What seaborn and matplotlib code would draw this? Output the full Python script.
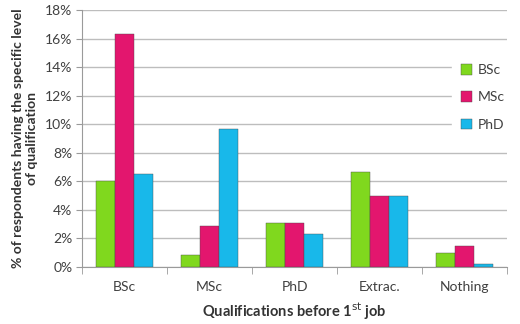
import pandas as pd
import matplotlib.pyplot as plt
import seaborn as sns
from matplotlib.ticker import PercentFormatter, FixedLocator

# 各資格水準在第一份工作前的比例
categories = ["BSc", "MSc", "PhD", "Extrac.", "Nothing"]
series = ["BSc", "MSc", "PhD"]
bsc_vals = [6.0, 0.85, 3.1, 6.65, 1.0]
msc_vals = [16.3, 2.9, 3.1, 5.0, 1.45]
phd_vals = [6.5, 9.7, 2.3, 5.0, 0.2]

df = pd.DataFrame({
    "qual": categories * 3,
    "level": ["BSc"] * 5 + ["MSc"] * 5 + ["PhD"] * 5,
    "pct": bsc_vals + msc_vals + phd_vals,
})

sns.set_style("white")
plt.rcParams['font.family'] = ['Lato', 'DejaVu Sans']

fig = plt.figure(figsize=(5.2, 3.24), dpi=100)
ax = fig.add_axes([0.158, 0.176, 0.817, 0.793])

palette = {"BSc": "#80D81E", "MSc": "#E3166E", "PhD": "#18B8EA"}
sns.barplot(data=df, x="qual", y="pct", hue="level", palette=palette,
            width=0.67, gap=0, edgecolor="#4a4a4a", linewidth=0.3,
            saturation=1, ax=ax, zorder=3)

ax.set_ylim(0, 18)
ax.set_xlim(-0.5, 4.5)
ax.yaxis.set_major_locator(FixedLocator(range(0, 19, 2)))
ax.yaxis.set_major_formatter(PercentFormatter(decimals=0))
ax.grid(axis='y', color="#bdbdbd", linewidth=1, zorder=0)
ax.set_axisbelow(True)

for side in ["top", "right"]:
    ax.spines[side].set_visible(False)
for side in ["left", "bottom"]:
    ax.spines[side].set_color("#9a9a9a")

ax.tick_params(axis='x', length=0, labelsize=10, colors="#404040", pad=10)
ax.tick_params(axis='y', length=4, labelsize=10, colors="#404040", left=True,
               color="#9a9a9a", pad=3)
ax.set_xticks([i + 0.5 for i in range(-1, 5)], minor=True)
ax.tick_params(axis='x', which='minor', length=5, color="#9a9a9a", bottom=True)

ax.set_xlabel("Qualifications before 1$^{\\mathrm{st}}$ job", fontsize=10.5,
              fontweight="bold", color="#333333", labelpad=5)
ax.set_ylabel("% of respondents having the specific level\nof qualification",
              fontsize=10, fontweight="bold", color="#333333", labelpad=5)

leg = ax.legend(loc="center left", bbox_to_anchor=(0.855, 0.66), frameon=True,
                facecolor="white", edgecolor="white", framealpha=1,
                fontsize=10, labelspacing=1.1, handlelength=0.8,
                handleheight=0.8, handletextpad=0.4, borderpad=0.6)
for t in leg.get_texts():
    t.set_color("#404040")

fig.savefig("out.png", dpi=100)
